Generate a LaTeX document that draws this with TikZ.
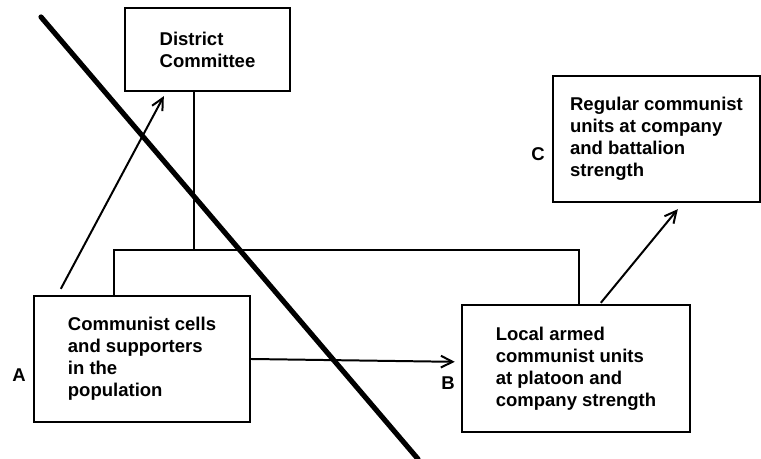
\documentclass[tikz,border=0pt]{standalone}
\usepackage{fontspec}
\setmainfont{Liberation Sans}
\usepackage{tikz,tkz-euclide}
\usetikzlibrary{calc,arrows.meta}

\tikzset{
	unitbox/.style={draw,line width=2pt,align=left,inner sep=0pt,
		font=\bfseries\fontsize{15.8}{18.7}\selectfont},
	link/.style={line width=1.6pt},
	pointer/.style={line width=1.7pt,-{Straight Barb[length=10pt,width=10pt,line width=1.7pt]}},
	tag/.style={font=\bfseries\fontsize{15.8}{18.7}\selectfont,inner sep=0pt}
}

\begin{document}
\begin{tikzpicture}[x=0.03cm,y=0.03cm]
			\useasboundingbox (0,0) rectangle (761,459);
			\node[unitbox,minimum width=4.95cm,minimum height=2.49cm] (dist) at (207.5,409.5) {District\\Committee};
			\node[unitbox,minimum width=6.21cm,minimum height=3.78cm] (reg) at (656.5,320) {Regular communist\\units at company\\and battalion\\strength};
			\node[unitbox,minimum width=6.48cm,minimum height=3.78cm] (cells) at (142,100) {Communist cells\\and supporters\\in the\\population};
			\node[unitbox,minimum width=6.84cm,minimum height=3.81cm] (local) at (576,90.5) {Local armed\\communist units\\at platoon and\\company strength};

			\node[tag] (la) at (19,84) {A};
			\node[tag] (lb) at (448,76) {B};
			\node[tag] (lc) at (538,305) {C};

			\tkzDefPoint(194,209){J}
			\tkzDefPoint(114,209){L}
			\tkzDefPoint(579,209){R}
			\tkzDefPoint(41,442){P}
			\tkzDefPoint(418,0){Q}

			\draw[link] (dist.south -| J) -- (J);
			\draw[link] (cells.north -| L) -- (L) -- (R) -- (local.north -| R);
			\draw[pointer] ([xshift=0.84cm,yshift=0.18cm]cells.north west) -- ([xshift=1.2cm,yshift=-0.12cm]dist.south west);
			\draw[pointer] (cells.east) -- ([xshift=-0.18cm,yshift=0.2cm]local.west);
			\draw[pointer] ([xshift=4.2cm,yshift=0.03cm]local.north west) -- ([xshift=3.78cm,yshift=-0.18cm]reg.south west);
			\tkzDrawSegments[line width=4.4pt,color=black](P,Q)
\end{tikzpicture}
\end{document}
